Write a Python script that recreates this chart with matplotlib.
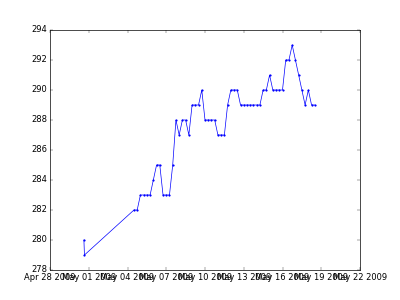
import pandas as pd
import matplotlib
matplotlib.use('Agg')
import matplotlib.pyplot as plt
import matplotlib.dates as mdates

plt.style.use('classic')

# first two readings, then 6-hourly readings from May 4
early_times = pd.to_datetime(['2009-04-30 15:00', '2009-04-30 16:00'])
early_values = [280, 279]

regular_start = '2009-05-04 12:00'
regular_values = [282, 282,
                  283, 283, 283, 283,
                  284,
                  285, 285,
                  283, 283, 283,
                  285,
                  288, 287, 288, 288, 287,
                  289, 289, 289,
                  290,
                  288, 288, 288, 288,
                  287, 287, 287,
                  289,
                  290, 290, 290,
                  289, 289, 289, 289, 289, 289, 289,
                  290, 290,
                  291,
                  290, 290, 290, 290,
                  292, 292,
                  293, 292, 291, 290, 289, 290,
                  289, 289]

regular_times = pd.date_range(regular_start, periods=len(regular_values), freq='6h')
times = list(early_times) + list(regular_times)
values = early_values + regular_values

tick_dates = pd.date_range('2009-04-28', '2009-05-22', freq='3D')

fig = plt.figure(figsize=(8, 6), dpi=50)
ax = fig.add_subplot(111)
ax.plot(times, values, 'b.-', markersize=5, linewidth=1)

ax.set_xlim(tick_dates[0], tick_dates[-1])
ax.set_ylim(278, 294)
ax.set_xticks(tick_dates)
ax.xaxis.set_major_formatter(mdates.DateFormatter('%b %d %Y'))
ax.set_yticks(range(278, 295, 2))

fig.savefig('out.png', dpi=50)
